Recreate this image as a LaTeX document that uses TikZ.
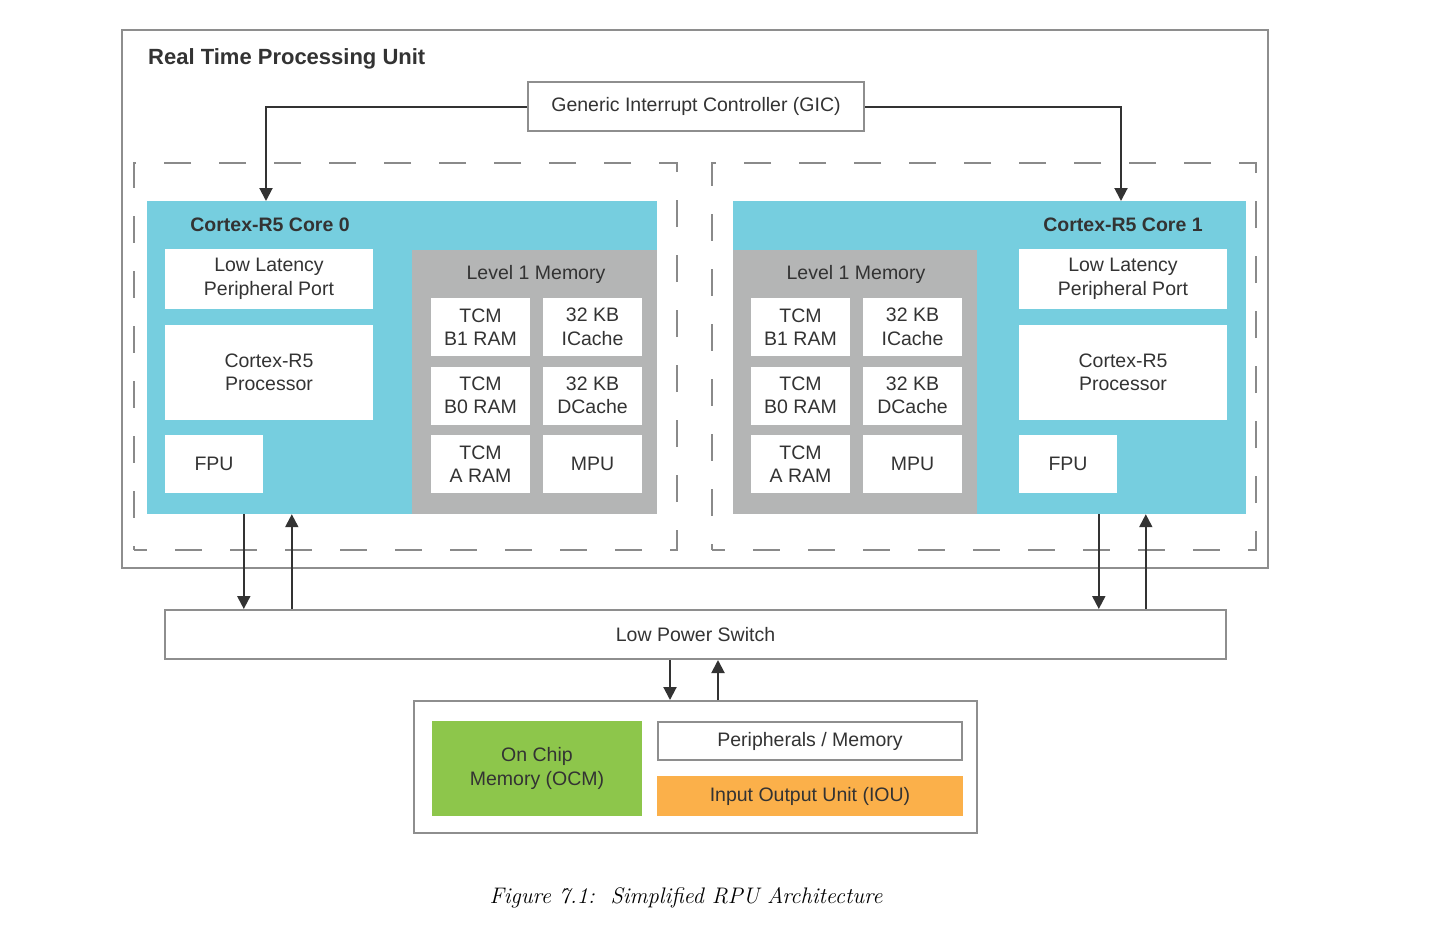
\documentclass[tikz,border=0pt]{standalone}
\usepackage{fontspec}
\setsansfont{Liberation Sans}
\usetikzlibrary{arrows.meta,positioning}
\definecolor{coreblue}{HTML}{76CEDF}
\definecolor{memgray}{HTML}{B4B5B5}
\definecolor{ocmgreen}{HTML}{8DC64B}
\definecolor{iouorange}{HTML}{FBB04A}
\definecolor{framegray}{HTML}{8E8E8E}
\definecolor{dashgray}{HTML}{8A8A8A}
\definecolor{txtgray}{HTML}{333333}
\begin{document}
\begin{tikzpicture}[x=1pt,y=-1pt,
    font=\sffamily\fontsize{19.5}{23.5}\selectfont, text=txtgray,
    sz/.style 2 args={minimum width=#1pt, minimum height=#2pt},
    frame/.style={draw=framegray, line width=2pt, fill=white},
    dashframe/.style={draw=dashgray, line width=1.6pt, dash pattern=on 27pt off 28pt, dash phase=14pt},
    cell/.style={fill=white},
    arr/.style={draw=txtgray, line width=2pt, -{Triangle[length=13pt,width=13pt]}}]
  \useasboundingbox (0,0) rectangle (1440,927);

  \begin{scope}[every node/.style={inner sep=0pt, align=center}]
      % outer unit
      \node[frame, sz={1146}{538}] (rpu) at (695,299) {};
      \node[anchor=west, font=\sffamily\bfseries\fontsize{22}{26}\selectfont] (title) at (148,58.5) {Real Time Processing Unit};
      \node[frame, sz={336}{49}] (gic) at (696,106.5) {Generic Interrupt Controller (GIC)};
      \node[dashframe, sz={543}{387}] (dash0) at (405.5,356.5) {};
      \node[dashframe, sz={544}{387}] (dash1) at (984,356.5) {};

      % core 0
      \node[fill=coreblue, sz={510}{313}] (core0) at (402,357.5) {};
      \node[fill=memgray, sz={245}{264}] (mem0) at (534.5,382) {};
      \node[font=\sffamily\bfseries\fontsize{19.5}{23.5}\selectfont] (lbl0) at (270,225) {Cortex-R5 Core 0};
      \node (memlbl0) at (536,274) {Level 1 Memory};
      \node[cell, sz={208}{60}] (llpp0) at (269,279) {Low Latency\\Peripheral Port};
      \node[cell, sz={208}{95}] (proc0) at (269,372.5) {Cortex-R5\\Processor};
      \node[cell, sz={98}{58}] (fpu0) at (214,464) {FPU};
      \node[cell, sz={99}{58}] (tcmb10) at (480.5,327) {TCM\\B1 RAM};
      \node[cell, sz={99}{58}] (icache0) at (592.5,327) {32 KB\\ICache};
      \node[cell, sz={99}{58}] (tcmb00) at (480.5,395.5) {TCM\\B0 RAM};
      \node[cell, sz={99}{58}] (dcache0) at (592.5,395.5) {32 KB\\DCache};
      \node[cell, sz={99}{58}] (tcma0) at (480.5,464) {TCM\\A RAM};
      \node[cell, sz={99}{58}] (mpu0) at (592.5,464) {MPU};

      % core 1
      \node[fill=coreblue, sz={513}{313}] (core1) at (989.5,357.5) {};
      \node[fill=memgray, sz={244}{264}] (mem1) at (855,382) {};
      \node[font=\sffamily\bfseries\fontsize{19.5}{23.5}\selectfont] (lbl1) at (1123,225) {Cortex-R5 Core 1};
      \node (memlbl1) at (856,274) {Level 1 Memory};
      \node[cell, sz={208}{60}] (llpp1) at (1123,279) {Low Latency\\Peripheral Port};
      \node[cell, sz={208}{95}] (proc1) at (1123,372.5) {Cortex-R5\\Processor};
      \node[cell, sz={98}{58}] (fpu1) at (1068,464) {FPU};
      \node[cell, sz={99}{58}] (tcmb11) at (800.5,327) {TCM\\B1 RAM};
      \node[cell, sz={99}{58}] (icache1) at (912.5,327) {32 KB\\ICache};
      \node[cell, sz={99}{58}] (tcmb01) at (800.5,395.5) {TCM\\B0 RAM};
      \node[cell, sz={99}{58}] (dcache1) at (912.5,395.5) {32 KB\\DCache};
      \node[cell, sz={99}{58}] (tcma1) at (800.5,464) {TCM\\A RAM};
      \node[cell, sz={99}{58}] (mpu1) at (912.5,464) {MPU};

      % switch and memories
      \node[frame, sz={1061}{49}] (lps) at (695.5,634.5) {Low Power Switch};
      \node[frame, sz={563}{132}] (soc) at (695.5,767) {};
      \node[fill=ocmgreen, sz={210}{95}] (ocm) at (537,768.5) {On Chip\\Memory (OCM)};
      \node[frame, sz={304}{38}] (perimem) at (810,741) {Peripherals / Memory};
      \node[fill=iouorange, sz={306}{40}] (iou) at (810,796) {Input Output Unit (IOU)};

      \node[font=\itshape\fontsize{22.5}{27}\selectfont, text=black] (caption) at (686,898) {Figure 7.1:\ \ Simplified RPU Architecture};
  \end{scope}

  \begin{scope}
      \coordinate (irq0) at (266,201);
      \coordinate (irq1) at (1121,201);
      \draw[arr] (gic.west) -| (irq0);
      \draw[arr] (gic.east) -| (irq1);
      \draw[arr] ([xshift=97pt]core0.south west) -- ([xshift=97pt]core0.south west |- lps.north);
      \draw[arr] ([xshift=145pt]core0.south west |- lps.north) -- ([xshift=145pt]core0.south west);
      \draw[arr] ([xshift=366pt]core1.south west) -- ([xshift=366pt]core1.south west |- lps.north);
      \draw[arr] ([xshift=413pt]core1.south west |- lps.north) -- ([xshift=413pt]core1.south west);
      \draw[arr] ([xshift=506pt]lps.south west) -- ([xshift=506pt]lps.south west |- soc.north);
      \draw[arr] ([xshift=554pt]lps.south west |- soc.north) -- ([xshift=554pt]lps.south west);
  \end{scope}
\end{tikzpicture}
\end{document}
